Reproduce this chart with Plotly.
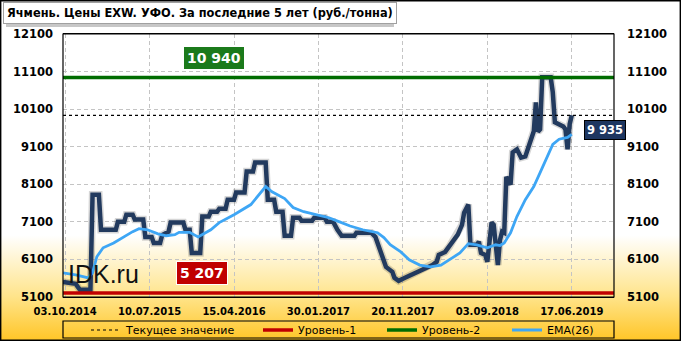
import base64
import plotly.graph_objects as go

# ---------------- data ----------------
# x = index of the weekly observation (category axis, equal spacing)
price_weeks = [-1, 5, 7, 12, 13, 16, 17, 24, 25, 28, 29, 32, 33, 37, 38, 41, 42, 45, 46, 49,
               50, 56, 57, 59, 60, 64, 65, 68, 69, 72, 73, 76, 77, 80, 81, 85, 86, 89, 90, 95,
               96, 99, 100, 103, 104, 107, 108, 111, 112, 117, 118, 123, 124, 127, 129, 131, 137, 138, 145, 147,
               152, 155, 156, 158, 161, 164, 168, 171, 174, 176, 177, 180, 182, 183, 186, 188, 189, 191, 192, 195,
               196, 197, 199, 200, 201, 202, 203, 204, 205, 206, 207, 208, 209, 211, 212, 214, 216, 218, 220, 221,
               222, 223, 224, 225, 226, 230, 231, 232, 234, 236, 237, 238, 239, 240]
price_values = [5500, 5450, 5290, 5290, 7820, 7820, 6890, 6890, 7100, 7100, 7290, 7290, 7160, 7160, 6700, 6700, 6540, 6540, 6750, 6840,
                7080, 7080, 6890, 6890, 6270, 6270, 7240, 7240, 7370, 7370, 7450, 7450, 7690, 7690, 7880, 7880, 8440, 8440, 8680, 8680,
                7690, 7690, 7370, 7370, 6730, 6730, 7210, 7210, 7130, 7130, 7210, 7210, 7100, 7100, 6890, 6730, 6730, 6810, 6810, 6700,
                5900, 5770, 5610, 5530, 5610, 5690, 5770, 5870, 5950, 6035, 6220, 6300, 6440, 6540, 6760, 7020, 7340, 7560, 6490, 6490,
                6570, 6270, 6220, 6035, 6620, 7080, 7020, 6440, 5950, 6620, 6840, 6810, 8300, 8090, 8950, 9030, 8810, 8840, 9160, 9300,
                9510, 10280, 9500, 9560, 10950, 10950, 10550, 9750, 9700, 9640, 9560, 9030, 9700, 9935]

ema_weeks = [-1, 5, 11, 13, 15, 18, 23, 27, 32, 35, 39, 44, 48, 52, 54, 59, 63, 69, 73, 80,
             88, 95, 98, 104, 108, 113, 119, 125, 130, 135, 141, 148, 151, 154, 159, 163, 168, 173, 178, 182,
             187, 191, 195, 200, 204, 206, 208, 211, 214, 218, 222, 225, 228, 231, 234, 238, 240]
ema_values = [5740, 5690, 5610, 5740, 6170, 6410, 6540, 6680, 6840, 6920, 6890, 6780, 6730, 6760, 6820, 6820, 6700, 6890, 7080, 7290,
              7560, 8040, 7900, 7720, 7480, 7370, 7290, 7210, 7100, 6990, 6890, 6810, 6680, 6490, 6300, 6090, 5950, 5900, 5950, 6090,
              6270, 6520, 6490, 6410, 6490, 6470, 6540, 6810, 7240, 7690, 8040, 8410, 8810, 9160, 9300, 9350, 9430]

current_value = 9935
level_1 = 5207
level_2 = 10940

x_range = [-1, 260]
tick_index = [0, 40, 80, 120, 160, 200, 240]
tick_labels = ["03.10.2014", "10.07.2015", "15.04.2016", "30.01.2017", "20.11.2017", "03.09.2018", "17.06.2019"]
y_ticks = [5100, 6100, 7100, 8100, 9100, 10100, 11100, 12100]
y_range = [5100, 12100]

title_text = "Ячмень. Цены EXW. УФО. За последние 5 лет (руб./тонна)"
legend_names = ["Текущее значение", "Уровень-1", "Уровень-2", "EMA(26)"]


def fmt(v):
    return f"{v:,}".replace(",", " ")

# ---------------- figure ----------------
W, H = 681, 341
ML, MR, MT, MB = 63, 67, 34, 44
PW, PH = W - ML - MR, H - MT - MB


def px(xp):
    return (xp - ML) / PW


def py(yp):
    return (H - MB - yp) / PH


fig = go.Figure()

NAVY = "#223a5e"
BLUE = "#3ea6f5"
RED = "#c00000"
GREEN = "#006c00"

fig.add_trace(go.Scatter(x=price_weeks, y=price_values, mode="lines",
                         line=dict(color="rgba(0,0,0,0.16)", width=7.5), showlegend=False, hoverinfo="skip"))
fig.add_trace(go.Scatter(x=price_weeks, y=price_values, mode="lines",
                         line=dict(color=NAVY, width=4.5), showlegend=False, hoverinfo="skip"))
fig.add_trace(go.Scatter(x=ema_weeks, y=ema_values, mode="lines", name=legend_names[3],
                         line=dict(color=BLUE, width=2.8), legend="legend4"))
fig.add_trace(go.Scatter(x=x_range, y=[level_1, level_1], mode="lines", name=legend_names[1],
                         line=dict(color=RED, width=3.5), legend="legend2"))
fig.add_trace(go.Scatter(x=x_range, y=[level_2, level_2], mode="lines", name=legend_names[2],
                         line=dict(color=GREEN, width=3.5), legend="legend3"))
fig.add_trace(go.Scatter(x=x_range, y=[current_value, current_value], mode="lines", name=legend_names[0],
                         line=dict(color="black", width=1.2, dash="3px,3px"), legend="legend", yaxis="y2"))

# gradient background
svg = (f'<svg xmlns="http://www.w3.org/2000/svg" width="{W}" height="{H}" preserveAspectRatio="none">'
       '<defs><linearGradient id="g" x1="0" y1="0" x2="0" y2="1">'
       '<stop offset="0" stop-color="#ffffff"/><stop offset="0.69" stop-color="#ffffff"/>'
       '<stop offset="0.87" stop-color="#ffe48a"/><stop offset="1" stop-color="#ffc526"/>'
       f'</linearGradient></defs><rect width="{W}" height="{H}" fill="url(#g)"/></svg>')
src = "data:image/svg+xml;base64," + base64.b64encode(svg.encode()).decode()

fig.add_layout_image(dict(source=src, xref="paper", yref="paper", x=px(0), y=py(0),
                          sizex=W / PW, sizey=H / PH, xanchor="left", yanchor="top",
                          sizing="stretch", layer="below"))

axis_font = dict(family="DejaVu Sans", size=11.5, color="black", weight="bold")
yaxis_common = dict(range=y_range, tickvals=y_ticks, ticktext=[str(v) for v in y_ticks],
                    tickfont=axis_font, showline=False, zeroline=False, ticks="")


def legend_at(xpix):
    return dict(orientation="h", x=px(xpix), xanchor="left", yref="container", y=(H - 330) / H,
                yanchor="middle", bgcolor="rgba(0,0,0,0)",
                font=dict(family="DejaVu Sans", size=11, color="black"), itemwidth=30)


fig.update_layout(
    width=W, height=H, margin=dict(l=ML, r=MR, t=MT, b=MB, autoexpand=False),
    paper_bgcolor="white", plot_bgcolor="rgba(0,0,0,0)",
    xaxis=dict(range=x_range, tickvals=tick_index, ticktext=tick_labels,
               tickfont=dict(family="DejaVu Sans", size=10, color="black", weight="bold"),
               showgrid=True, gridcolor="#c4c4c4", griddash="4px,3px", gridwidth=1,
               showline=True, linecolor="black", linewidth=1, mirror=True, ticks="",
               ticklabelstandoff=5, zeroline=False),
    yaxis=dict(**yaxis_common, showgrid=True, gridcolor="#c4c4c4", griddash="4px,3px", gridwidth=1,
               ticklabelstandoff=9),
    yaxis2=dict(**yaxis_common, overlaying="y", side="right", showgrid=False, ticklabelstandoff=12),
    showlegend=True,
    legend=legend_at(86),
    legend2=legend_at(258),
    legend3=legend_at(382),
    legend4=legend_at(507),
    hovermode=False,
)
# plot border (black)
fig.add_shape(type="rect", xref="paper", yref="paper", x0=0, x1=1, y0=0, y1=1,
              line=dict(color="black", width=1.2), layer="above")
# legend border
fig.add_shape(type="rect", xref="paper", yref="paper", x0=0, x1=1, y0=py(321), y1=py(338),
              line=dict(color="black", width=1.2))
# figure border
fig.add_shape(type="rect", xref="paper", yref="paper", x0=px(0.7), x1=px(W - 0.7), y0=py(0.7), y1=py(H - 0.7),
              line=dict(color="black", width=1.4))

# title box shadow + title
fig.add_shape(type="rect", xref="paper", yref="paper", x0=px(6), x1=px(394), y0=py(5), y1=py(27),
              line=dict(width=0), fillcolor="rgba(0,0,0,0.22)")
fig.add_annotation(text=title_text, xref="paper", yref="paper", x=px(3), y=py(2), xanchor="left", yanchor="top",
                   showarrow=False, bgcolor="white", bordercolor="#a0a0a0", borderwidth=1, borderpad=3,
                   font=dict(family="DejaVu Sans", size=11.4, color="black", weight="bold"))

# value labels
fig.add_annotation(text=fmt(level_2), xref="paper", yref="y", x=px(214), y=11460, xanchor="center",
                   showarrow=False, bgcolor="#1b7a1b", bordercolor="white", borderwidth=1, borderpad=3,
                   font=dict(family="DejaVu Sans", size=14, color="white", weight="bold"))
fig.add_annotation(text=fmt(level_1), xref="paper", yref="y", x=px(202), y=5741, xanchor="center",
                   showarrow=False, bgcolor=RED, bordercolor="white", borderwidth=1, borderpad=3,
                   font=dict(family="DejaVu Sans", size=14, color="white", weight="bold"))
fig.add_annotation(text=fmt(current_value), xref="paper", yref="y", x=px(605), y=9535, xanchor="center",
                   showarrow=False, bgcolor="#1d3660", bordercolor="black", borderwidth=1, borderpad=2,
                   font=dict(family="DejaVu Sans", size=11.5, color="white", weight="bold"))
# watermark
fig.add_annotation(text="IDK.ru", xref="paper", yref="paper", x=px(66), y=py(274), xanchor="left", yanchor="middle",
                   showarrow=False, font=dict(family="Liberation Sans", size=25, color="#111111"))

fig.write_html("out.html")
